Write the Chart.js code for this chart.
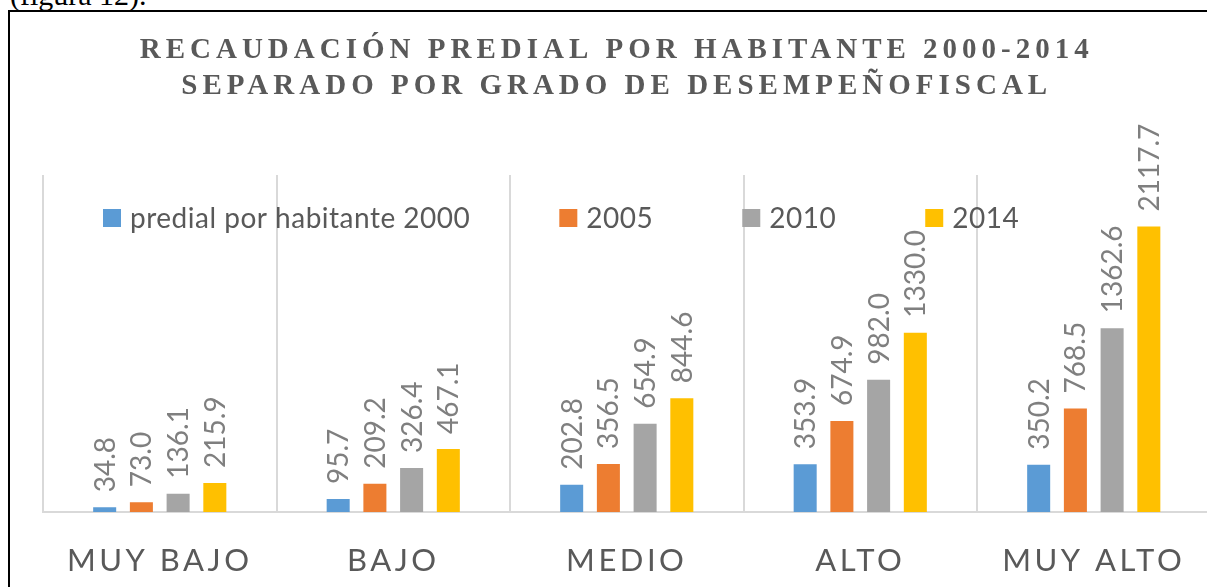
<!DOCTYPE html>
<html>
<head>
<meta charset="utf-8">
<script src="https://cdn.jsdelivr.net/npm/chart.js@4.4.1/dist/chart.umd.min.js"></script>
<style>
  html, body { margin: 0; padding: 0; width: 1207px; height: 587px; overflow: hidden; background: #fff; }
  .caption { position: absolute; left: 10px; top: -20px; font: 30px/1 'Liberation Serif', serif; color: #000; white-space: nowrap; }
  .frame { position: absolute; left: 8px; top: 10px; width: 1300px; height: 700px; border: 2px solid #000; }
  #chart { position: absolute; left: 0; top: 0; }
</style>
</head>
<body>
<div class="caption">(figura 12).</div>
<div class="frame"></div>
<canvas id="chart" width="1240" height="620"></canvas>
<script>
// Data
const categories = ['MUY BAJO', 'BAJO', 'MEDIO', 'ALTO', 'MUY ALTO'];
const seriesNames = ['predial por habitante 2000', '2005', '2010', '2014'];
const seriesColors = ['#5B9BD5', '#ED7D31', '#A5A5A5', '#FFC000'];
const values2000 = [34.8, 95.7, 202.8, 353.9, 350.2];
const values2005 = [73.0, 209.2, 356.5, 674.9, 768.5];
const values2010 = [136.1, 326.4, 654.9, 982.0, 1362.6];
const values2014 = [215.9, 467.1, 844.6, 1330.0, 2117.7];
const titleLines = ['RECAUDACIÓN PREDIAL POR HABITANTE 2000-2014', 'SEPARADO POR GRADO DE DESEMPEÑOFISCAL'];

const allValues = [values2000, values2005, values2010, values2014];

// Value labels, rotated, above each bar
function drawValueLabels(chart) {
    const ctx = chart.ctx;
    ctx.save();
    ctx.letterSpacing = '0px';
    ctx.font = '28px Lato';
    ctx.fillStyle = '#7F7F7F';
    ctx.textAlign = 'left';
    ctx.textBaseline = 'alphabetic';
    chart.data.datasets.forEach((ds, i) => {
        chart.getDatasetMeta(i).data.forEach((bar, j) => {
            ctx.save();
            ctx.translate(bar.x + 10, bar.y - 15);
            ctx.rotate(-Math.PI / 2);
            ctx.fillText(ds.data[j].toFixed(1), 0, 0);
            ctx.restore();
        });
    });
    ctx.restore();
}

// Legend sits inside the plot area, so draw it by hand
function drawLegend(chart) {
    const ctx = chart.ctx;
    const top = chart.chartArea.top + 34;
    ctx.save();
    ctx.letterSpacing = '0.5px';
    ctx.font = '28px Lato';
    ctx.textAlign = 'left';
    ctx.textBaseline = 'alphabetic';
    let x = 103;
    chart.data.datasets.forEach(ds => {
        ctx.fillStyle = ds.backgroundColor;
        ctx.fillRect(x, top, 18, 18);
        ctx.fillStyle = '#595959';
        ctx.fillText(ds.label, x + 27, top + 19);
        x += 27 + ctx.measureText(ds.label).width + 89;
    });
    ctx.restore();
}

const extrasPlugin = {
    id: 'extras',
    beforeDraw(chart) {
        // spacing for the title
        chart.ctx.letterSpacing = '5px';
    },
    afterDatasetsDraw(chart) {
        drawValueLabels(chart);
        drawLegend(chart);
        // spacing for the category labels (drawn after datasets, z: 1)
        chart.ctx.letterSpacing = '3.5px';
    },
    afterDraw(chart) {
        chart.ctx.letterSpacing = '0px';
    }
};

new Chart(document.getElementById('chart'), {
    type: 'bar',
    data: {
        labels: categories,
        datasets: allValues.map((vals, i) => ({
            label: seriesNames[i],
            data: vals,
            backgroundColor: seriesColors[i],
            barPercentage: 0.627,
            categoryPercentage: 0.629
        }))
    },
    options: {
        responsive: false,
        animation: false,
        layout: {
            padding: { left: 23, right: 29.5, top: 0, bottom: 10.8 }
        },
        plugins: {
            legend: { display: false },
            tooltip: { enabled: false },
            title: {
                display: true,
                text: titleLines,
                color: '#595959',
                font: { family: 'Liberation Serif', size: 29, weight: 'bold', lineHeight: 36 / 29 },
                padding: { top: 32.5, bottom: 70.5 }
            }
        },
        scales: {
            x: {
                grid: { color: '#D9D9D9', lineWidth: 2, drawTicks: false, offset: true },
                border: { color: '#D9D9D9', width: 2 },
                ticks: {
                    color: '#595959',
                    font: { family: 'Lato', size: 31 },
                    padding: 30,
                    maxRotation: 0,
                    autoSkip: false,
                    z: 1
                }
            },
            y: {
                min: 0,
                max: 2500,
                ticks: { display: false },
                grid: { display: false },
                border: { display: false },
                afterFit(scale) {
                    scale.width = 20;
                }
            }
        }
    },
    plugins: [extrasPlugin]
});
</script>
</body>
</html>
